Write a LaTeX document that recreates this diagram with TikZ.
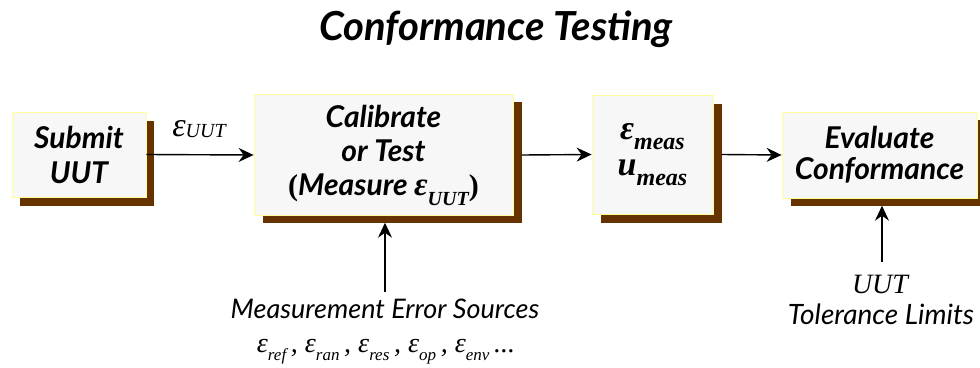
\documentclass[tikz,border=0pt]{standalone}
\usepackage{fontspec}
\setmainfont{Lato}
\newfontfamily\tms{Liberation Serif}
\usetikzlibrary{arrows.meta}

\definecolor{facefill}{HTML}{F7F7F7}
\definecolor{faceline}{HTML}{FFFF99}
\definecolor{shade}{HTML}{663300}

% symbol with a lowered subscript: [subsize]{symbol}{subscript}
\newcommand\withsub[3][17]{#2\raisebox{-0.3em}{\fontsize{#1}{#1}\selectfont #3}}
% same, with the subscript only slightly lowered
\newcommand\withlowsub[3][17]{#2\raisebox{-0.05em}{\fontsize{#1}{#1}\selectfont #3}}

\tikzset{
  face/.style={rectangle, fill=facefill, draw=faceline, line width=0.8pt,
    inner sep=0pt, align=center, font=\fontsize{30}{35}\selectfont\bfseries\itshape},
  shadowbox/.style={rectangle, fill=shade, inner sep=0pt},
  flow/.style={line width=1.4pt, -{Stealth[length=15pt,width=14pt,inset=5pt]}},
  note/.style={align=center, inner sep=0pt}
}

\begin{document}
\begin{tikzpicture}[x=1pt, y=-1pt]
\useasboundingbox (0,0) rectangle (980,367);

% title
\node[note, font=\fontsize{40}{44}\selectfont\bfseries\itshape] (title) at (496,29) {Conformance Testing};

% drop shadows
\node[shadowbox, minimum width=134pt, minimum height=85pt] (s1) at (87,163) {};
\node[shadowbox, minimum width=259pt, minimum height=121pt] (s2) at (392,162) {};
\node[shadowbox, minimum width=121pt, minimum height=119pt] (s3) at (661,163) {};
\node[shadowbox, minimum width=195pt, minimum height=86pt] (s4) at (888,162.5) {};

% boxes
\node[face, minimum width=134pt, minimum height=85pt] (b1) at (79,154.5) {Submit\\UUT};
\node[face, minimum width=259pt, minimum height=121pt, font=\fontsize{30}{34}\selectfont\bfseries\itshape] (b2) at (383.5,155)
  {Calibrate\\or Test\\{\tms\upshape\bfseries(}Measure {\tms\withsub[20]{\fontsize{33}{34}\selectfont ε}{UUT}}{\tms\upshape\bfseries)}};
\node[face, minimum width=121pt, minimum height=119pt, font=\fontsize{34}{36}\selectfont\tms\bfseries\itshape] (b3) at (652.5,154.5)
  {\withsub[24]{ε}{meas}\\\withsub[24]{u}{meas}};
\node[face, minimum width=195pt, minimum height=86pt, font=\fontsize{30}{31}\selectfont\bfseries\itshape] (b4) at (879.5,155) {Evaluate\\Conformance};

% flow between boxes
\draw[flow] (b1.east) -- (b2.west);
\draw[flow] (s2.east |- b2.east) -- (b3.west);
\draw[flow] (s3.east |- b3.east) -- (b4.west);
\node[note, font=\fontsize{34}{36}\selectfont\tms\itshape] (eu) at (199,129) {\withlowsub[20]{ε}{UUT}};

% error sources into the measurement
\coordinate (src) at (385,292);
\draw[flow] (src) -- (src |- s2.south);
\node[note, font=\fontsize{27}{30}\selectfont\itshape, text height=19pt, text depth=0pt, anchor=base]
  (srclbl) at (385,318) {Measurement Error Sources};
\node[note, font=\fontsize{28}{28}\selectfont\tms\itshape, text height=12pt, text depth=7pt, anchor=base]
  (srclist) at (386,352)
  {\withsub[17]{ε}{ref}\,,\ \withsub[17]{ε}{ran}\,,\ \withsub[17]{ε}{res}\,,\ \withsub[17]{ε}{op}\,,\ \withsub[17]{ε}{env}\,...};

% tolerance limits into the evaluation
\coordinate (tol) at (882,262);
\draw[flow] (tol) -- (tol |- s4.south);
\node[note, font=\fontsize{28}{30}\selectfont\tms\itshape] (tollbl1) at (880,284) {UUT};
\node[note, font=\fontsize{28}{30}\selectfont\itshape] (tollbl2) at (881,314) {Tolerance Limits};
\end{tikzpicture}
\end{document}
